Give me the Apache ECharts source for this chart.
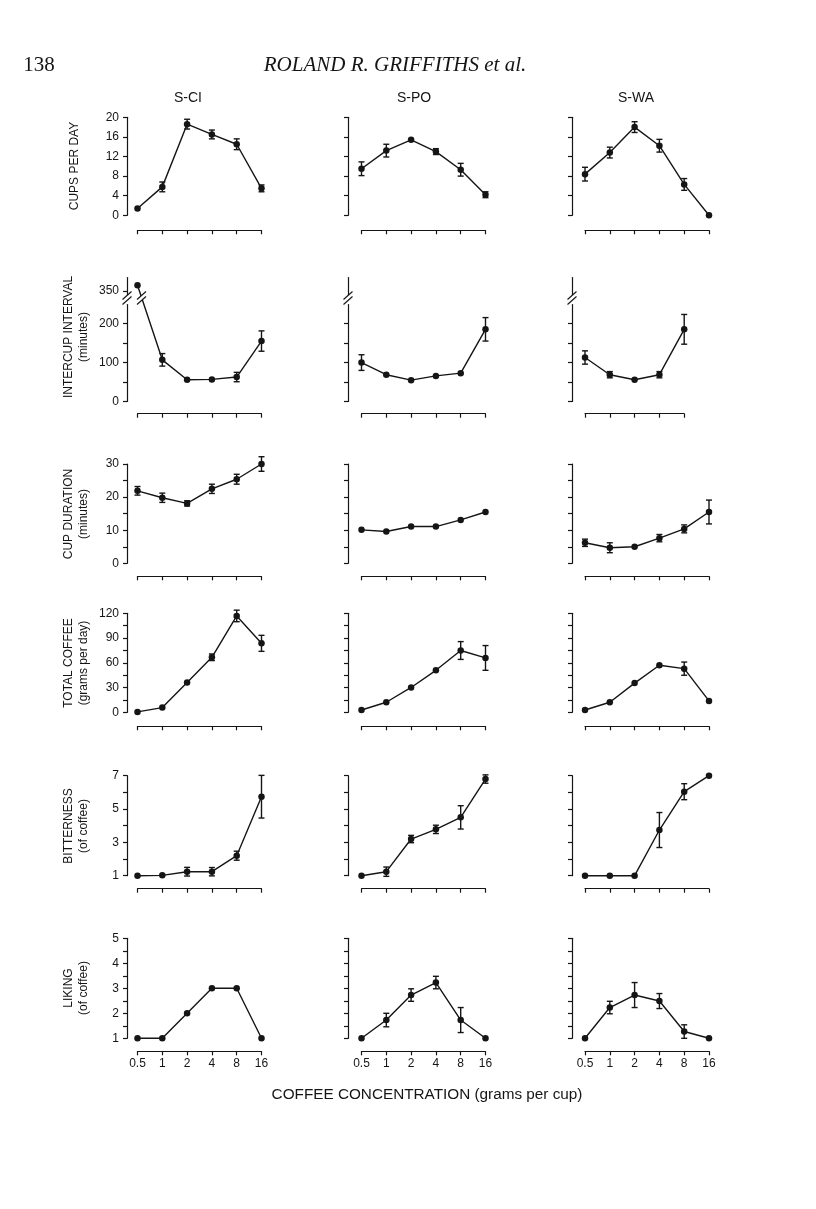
<!DOCTYPE html>
<html>
<head>
<meta charset="utf-8">
<script src="https://cdn.jsdelivr.net/npm/echarts@6/dist/echarts.min.js"></script>
<style>
  html, body { margin: 0; padding: 0; background: #fff; }
  #chart { width: 816px; height: 1209px; }
</style>
</head>
<body>
<div id="chart"></div>
<script>
// x categories (grams of coffee per cup) and subjects
const concentrations = ['0.5', '1', '2', '4', '8', '16'];
const subjects = ['S-CI', 'S-PO', 'S-WA'];

// cups per day, mean and error per subject
const cupsMean = [
  [1.4, 5.8, 18.6, 16.5, 14.5, 5.5],
  [9.5, 13.2, 15.4, 13.0, 9.3, 4.2],
  [8.4, 12.8, 18.0, 14.2, 6.3, 0]
];
const cupsErr = [
  [0, 1.0, 1.0, 0.9, 1.1, 0.7],
  [1.4, 1.3, 0, 0.6, 1.3, 0.6],
  [1.4, 1.1, 1.1, 1.3, 1.2, 0]
];

// intercup interval (minutes); S-WA has no 16 g point
const intervalMean = [
  [365, 107, 56, 57, 63, 155],
  [100, 69, 55, 66, 73, 185],
  [113, 69, 56, 69, 185]
];
const intervalErr = [
  [0, 16, 0, 0, 12, 26],
  [20, 0, 0, 0, 0, 30],
  [17, 8, 0, 8, 38]
];

// cup duration (minutes)
const durationMean = [
  [21.9, 19.8, 18.1, 22.5, 25.4, 30.0],
  [10.1, 9.6, 11.1, 11.1, 13.1, 15.5],
  [6.2, 4.7, 5.0, 7.6, 10.4, 15.5]
];
const durationErr = [
  [1.3, 1.4, 0.8, 1.4, 1.5, 2.2],
  [0, 0, 0, 0, 0, 0],
  [1.1, 1.5, 0, 1.1, 1.2, 3.6]
];

// total coffee (grams per day)
const totalMean = [
  [0.5, 5.7, 36, 66.7, 116.8, 83.6],
  [2.8, 12.2, 30.1, 50.9, 74.9, 65.9],
  [2.8, 12.2, 35.4, 57, 52.9, 13.8]
];
const totalErr = [
  [0, 0, 0, 4, 7, 9.7],
  [0, 0, 0, 0, 10.8, 15],
  [0, 0, 0, 0, 8, 0]
];

// bitterness rating
const bitterMean = [
  [1.0, 1.02, 1.24, 1.24, 2.2, 5.74],
  [1.0, 1.24, 3.2, 3.78, 4.5, 6.8],
  [1.0, 1.0, 1.0, 3.74, 6.04, 7.0]
];
const bitterErr = [
  [0, 0, 0.26, 0.25, 0.27, 1.28],
  [0, 0.28, 0.22, 0.25, 0.7, 0.25],
  [0, 0, 0, 1.05, 0.48, 0]
];

// liking rating
const likingMean = [
  [1, 1, 2, 3, 3, 1],
  [1, 1.73, 2.73, 3.23, 1.73, 1],
  [1, 2.23, 2.73, 2.49, 1.27, 1]
];
const likingErr = [
  [0, 0, 0, 0, 0, 0],
  [0, 0.27, 0.25, 0.25, 0.5, 0],
  [0, 0.25, 0.5, 0.3, 0.27, 0]
];

// y ticks and labels
const cupsTicks = [0, 4, 8, 12, 16, 20];
const intervalTicks = [0, 50, 100, 150, 200];
const intervalTicksCI = [0, 50, 100, 150, 200, 350];
const intervalLabels = [0, 100, 200, 350];
const durationTicks = [0, 5, 10, 15, 20, 25, 30];
const durationLabels = [0, 10, 20, 30];
const totalTicks = [0, 15, 30, 45, 60, 75, 90, 105, 120];
const totalLabels = [0, 30, 60, 90, 120];
const bitterTicks = [1, 2, 3, 4, 5, 6, 7];
const bitterLabels = [1, 3, 5, 7];
const likingTicks = [1, 1.5, 2, 2.5, 3, 3.5, 4, 4.5, 5];
const likingLabels = [1, 2, 3, 4, 5];

const ink = '#151515';
const sans = '"Liberation Sans", Arial, sans-serif';
const serif = '"Liberation Serif", "Times New Roman", serif';

// layout (px)
const colX0 = [137.5, 361.5, 585];
const colAxisX = [127, 348, 572];
const step = 24.8;
const rowTop = [117.3, 277, 464, 613.3, 775.7, 938.3];
const rowBottom = [215.3, 401.7, 563.3, 712.3, 875.7, 1038.3];
const xDrop = [15, 12, 13, 14, 13, 13];

const rows = [
  { name: 'CUPS PER DAY', mean: cupsMean, err: cupsErr, min: 0, max: 20, ticks: cupsTicks, labels: cupsTicks },
  { name: 'INTERCUP INTERVAL\n(minutes)', mean: intervalMean, err: intervalErr, min: 0, max: 386,
    ticks: intervalTicks, ticksCI: intervalTicksCI, labels: intervalLabels,
    breaks: [{ start: 250, end: 330, gap: '4%' }] },
  { name: 'CUP DURATION\n(minutes)', mean: durationMean, err: durationErr, min: 0, max: 30, ticks: durationTicks, labels: durationLabels },
  { name: 'TOTAL COFFEE\n(grams per day)', mean: totalMean, err: totalErr, min: 0, max: 120, ticks: totalTicks, labels: totalLabels },
  { name: 'BITTERNESS\n(of coffee)', mean: bitterMean, err: bitterErr, min: 1, max: 7, ticks: bitterTicks, labels: bitterLabels },
  { name: 'LIKING\n(of coffee)', mean: likingMean, err: likingErr, min: 1, max: 5, ticks: likingTicks, labels: likingLabels }
];

function drawErrorBar(params, api) {
  const lo = api.coord([api.value(0), api.value(1)]);
  const hi = api.coord([api.value(0), api.value(2)]);
  const w = 3;
  const style = { stroke: ink, lineWidth: 1.4 };
  return {
    type: 'group',
    children: [
      { type: 'line', shape: { x1: lo[0], y1: lo[1], x2: hi[0], y2: hi[1] }, style },
      { type: 'line', shape: { x1: lo[0] - w, y1: lo[1], x2: lo[0] + w, y2: lo[1] }, style },
      { type: 'line', shape: { x1: hi[0] - w, y1: hi[1], x2: hi[0] + w, y2: hi[1] }, style }
    ]
  };
}

const grids = [], xAxes = [], yAxes = [], series = [];
const axisLineStyle = { color: ink, width: 1.2 };

rows.forEach((row, r) => {
  subjects.forEach((s, c) => {
    const means = row.mean[c];
    const errs = row.err[c];
    const cats = concentrations.slice(0, means.length);
    const idx = grids.length;
    grids.push({
      left: colX0[c], top: rowTop[r],
      width: step * (cats.length - 1), height: rowBottom[r] - rowTop[r],
      outerBoundsMode: 'none'
    });
    xAxes.push({
      gridIndex: idx, type: 'category', data: cats, boundaryGap: false,
      offset: xDrop[r],
      axisLine: { show: true, onZero: false, lineStyle: axisLineStyle },
      axisTick: { show: true, length: 4, alignWithLabel: true, lineStyle: axisLineStyle },
      axisLabel: { show: r === rows.length - 1, margin: 6, color: ink, fontSize: 12, fontFamily: sans },
      splitLine: { show: false }
    });
    yAxes.push({
      gridIndex: idx, type: 'value', min: row.min, max: row.max,
      offset: colX0[c] - colAxisX[c],
      breaks: row.breaks,
      breakArea: { show: false },
      axisLine: { show: true, onZero: false, lineStyle: axisLineStyle },
      axisTick: { show: true, length: 4, customValues: (c === 0 && row.ticksCI) ? row.ticksCI : row.ticks, lineStyle: axisLineStyle },
      axisLabel: { show: c === 0, customValues: row.labels, margin: 8, color: ink, fontSize: 12, fontFamily: sans },
      splitLine: { show: false }
    });
    series.push({
      type: 'line', xAxisIndex: idx, yAxisIndex: idx, data: means,
      symbol: 'circle', symbolSize: 6.5, clip: false, z: 3,
      lineStyle: { color: ink, width: 1.4 },
      itemStyle: { color: ink }
    });
    series.push({
      type: 'custom', xAxisIndex: idx, yAxisIndex: idx, renderItem: drawErrorBar, z: 4,
      data: means.map((m, i) => [i, m - errs[i], m + errs[i]]).filter((d, i) => errs[i] > 0)
    });
  });
});

// "//" break marks with a white gap
function breakMark(cx, cy) {
  const dx = 4.5, dy = 4, sep = 5;
  const a = [[cx - dx, cy - sep / 2 + dy], [cx + dx, cy - sep / 2 - dy]];
  const b = [[cx - dx, cy + sep / 2 + dy], [cx + dx, cy + sep / 2 - dy]];
  return [
    { type: 'polygon', z: 100, shape: { points: [a[0], a[1], b[1], b[0]] }, style: { fill: '#fff' } },
    { type: 'line', z: 101, shape: { x1: a[0][0], y1: a[0][1], x2: a[1][0], y2: a[1][1] }, style: { stroke: ink, lineWidth: 1.1 } },
    { type: 'line', z: 101, shape: { x1: b[0][0], y1: b[0][1], x2: b[1][0], y2: b[1][1] }, style: { stroke: ink, lineWidth: 1.1 } }
  ];
}

function txt(x, y, text, font, extra) {
  return Object.assign({
    type: 'text', x, y, z: 50,
    style: {
      text, font, fill: ink,
      align: 'center', verticalAlign: 'middle',
      textAlign: 'center', textVerticalAlign: 'middle'
    }
  }, extra || {});
}

const nameCenters = [166, 337, 514, 663, 826, 988];
const graphic = [
  txt(39, 65, '138', '21px ' + serif),
  txt(395, 65, 'ROLAND R. GRIFFITHS et al.', 'italic 21px ' + serif),
  txt(188, 98, subjects[0], '14px ' + sans),
  txt(414, 98, subjects[1], '14px ' + sans),
  txt(636, 98, subjects[2], '14px ' + sans),
  txt(427, 1095, 'COFFEE CONCENTRATION (grams per cup)', '15.3px ' + sans)
];
rows.forEach((row, r) => {
  const two = row.name.indexOf('\n') >= 0;
  const t = txt(two ? 76.5 : 75, nameCenters[r], row.name, '12px ' + sans, { rotation: Math.PI / 2 });
  t.style.lineHeight = 15;
  graphic.push(t);
});
[127, 348, 572].forEach(x => graphic.push(...breakMark(x, 298)));
graphic.push(...breakMark(141.5, 298));

const chart = echarts.init(document.getElementById('chart'), null, { renderer: 'canvas' });
chart.setOption({
  animation: false,
  backgroundColor: '#fff',
  grid: grids,
  xAxis: xAxes,
  yAxis: yAxes,
  series,
  graphic
});
</script>
</body>
</html>
